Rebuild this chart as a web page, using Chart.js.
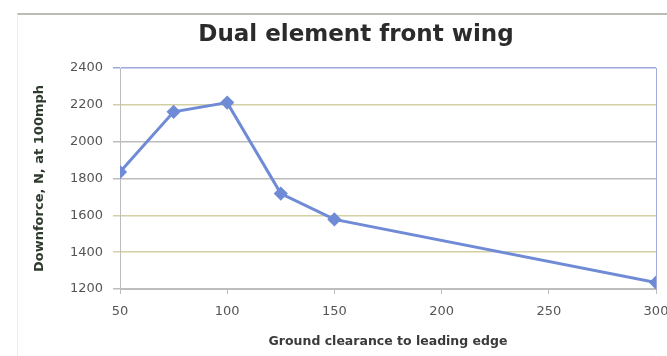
<!DOCTYPE html>
<html lang="en">
<head>
  <meta charset="UTF-8" />
  <title>Dual element front wing</title>
  <style>
    * { margin: 0; padding: 0; box-sizing: border-box; }
    html, body { width: 667px; height: 356px; background: #fff; overflow: hidden; }
    .frame {
      position: absolute; left: 17px; top: 13px; width: 660px; height: 360px;
      border-top: 2px solid #b9bdb6;
      border-left: 1px solid #ececec;
    }
    .box { position: absolute; left: 0; top: 0; width: 667px; height: 356px; }
  </style>
</head>
<body>
  <div class="frame"></div>
  <div class="box"><canvas id="grafico"></canvas></div>
  <script src="https://cdn.jsdelivr.net/npm/chart.js"></script>
  <script>
    const clearance = [50, 75, 100, 125, 150, 300];
    const downforce = [1835, 2162, 2212, 1718, 1578, 1235];
    const xTicks = [50, 100, 150, 200, 250, 300];
    const yTicks = [1200, 1400, 1600, 1800, 2000, 2200, 2400];

    // photo of an excel chart: some gridlines came out yellowish
    const gridColour = v => {
      if (v === 2400) return '#9aa8dc';
      if (v === 1600 || v === 1400 || v === 2200) return '#d3d0a4';
      return '#bdbdbd';
    };

    const ctx = document.getElementById('grafico').getContext('2d');
    window.chart = new Chart(ctx, {
      type: 'line',
      data: {
        datasets: [{
          label: 'Downforce',
          data: clearance.map((x, i) => ({ x: x, y: downforce[i] })),
          borderColor: '#6f8bd6',
          backgroundColor: '#6f8bd6',
          borderWidth: 3,
          pointStyle: 'rectRot',
          pointRadius: 5,
          tension: 0
        }]
      },
      options: {
        responsive: true,
        maintainAspectRatio: false,
        animation: false,
        // left padding bigger so the title sits right of centre like the original
        layout: { padding: { left: 47, right: 2, top: 6, bottom: 4 } },
        plugins: {
          legend: { display: false },
          tooltip: { enabled: false },
          title: {
            display: true,
            text: 'Dual element front wing',
            color: '#2b2b2b',
            font: { family: 'DejaVu Sans', size: 23, weight: 'bold', lineHeight: 1.2 },
            padding: { top: 15, bottom: 19.4 }
          }
        },
        scales: {
          x: {
            type: 'linear',
            min: 50, max: 300,
            afterBuildTicks: s => { s.ticks = xTicks.map(v => ({ value: v })); },
            afterFit: s => { s.height = 63; s.paddingRight = 11; },
            ticks: { color: '#555', font: { family: 'DejaVu Sans', size: 13 }, padding: 10 },
            grid: { display: true, drawOnChartArea: false, color: '#bdbdbd', tickLength: 5 },
            border: { color: '#bdbdbd' },
            title: {
              display: true,
              text: 'Ground clearance to leading edge',
              color: '#3a3a3a',
              font: { family: 'DejaVu Sans', size: 12.5, weight: 'bold' },
              padding: { top: 0, bottom: 3 }
            }
          },
          y: {
            min: 1200, max: 2400,
            afterBuildTicks: s => { s.ticks = yTicks.map(v => ({ value: v })); },
            afterFit: s => { s.width = 73; },
            ticks: {
              color: '#555',
              font: { family: 'DejaVu Sans', size: 13 },
              padding: 10,
              callback: v => String(v)
            },
            grid: { color: c => gridColour(c.tick ? c.tick.value : 0), lineWidth: 1.5, tickLength: 7 },
            border: { color: '#bdbdbd' },
            title: {
              display: true,
              text: 'Downforce, N, at 100mph',
              color: '#2f3a2f',
              font: { family: 'DejaVu Sans', size: 13, weight: 'bold' },
              padding: { top: -14.8, bottom: 0 }
            }
          },
          yRight: {
            position: 'right',
            display: true,
            min: 1200, max: 2400,
            afterFit: s => { s.width = 0; },
            ticks: { display: false },
            grid: { display: false },
            border: { color: '#a3acd9' }
          }
        }
      }
    });
  </script>
</body>
</html>
